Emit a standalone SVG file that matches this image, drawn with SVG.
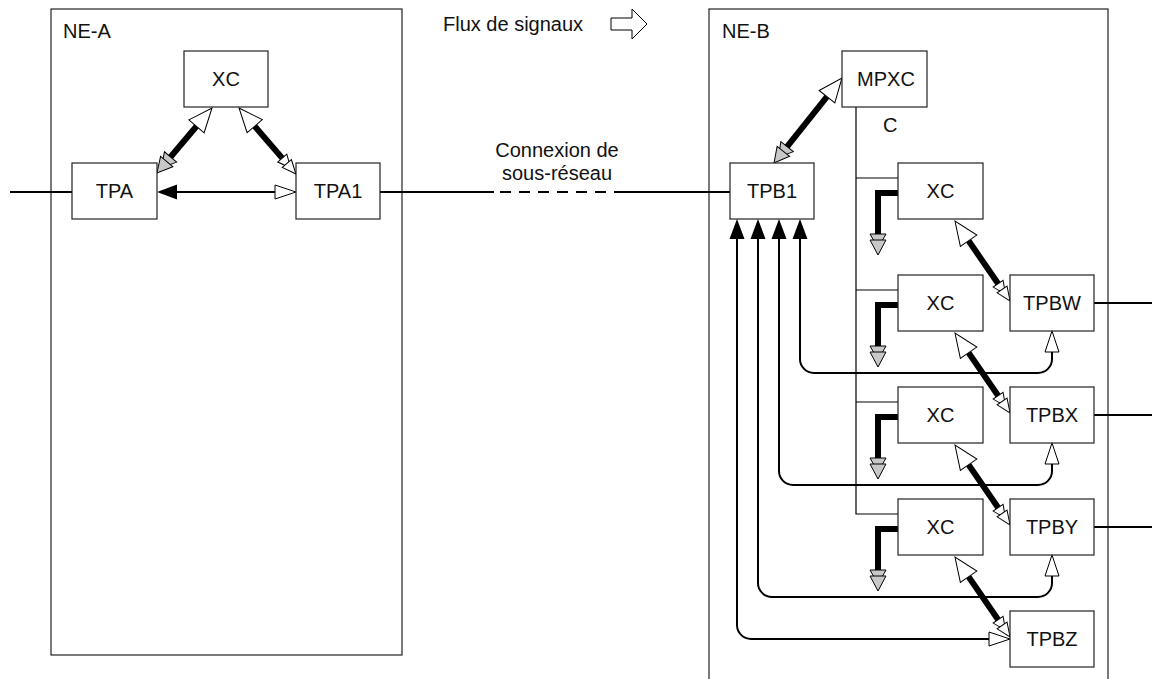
<svg xmlns="http://www.w3.org/2000/svg" width="1152" height="679" viewBox="0 0 1152 679">
<style>
.box{fill:#fff;stroke:#222;stroke-width:1.2}
.frame{fill:none;stroke:#222;stroke-width:1.2}
.t{font-family:"Liberation Sans",Arial,sans-serif;font-size:20px;fill:#111}
.c{text-anchor:middle}
.ln{fill:none;stroke:#000;stroke-width:2}
.thin{fill:none;stroke:#000;stroke-width:1.2}
.thick{fill:none;stroke:#000;stroke-width:6}
</style>
<defs>
<marker id="blk" markerUnits="userSpaceOnUse" markerWidth="24" markerHeight="18" refX="0" refY="7.5" orient="auto-start-reverse" overflow="visible">
<path d="M0,0 L20,7.5 L0,15 Z" fill="#000"/>
</marker>
<marker id="wht" markerUnits="userSpaceOnUse" markerWidth="24" markerHeight="18" refX="0" refY="7" orient="auto-start-reverse" overflow="visible">
<path d="M0,0 L21,7 L0,14 Z" fill="#fff" stroke="#000" stroke-width="1"/>
</marker>
<marker id="wbig" markerUnits="userSpaceOnUse" markerWidth="26" markerHeight="22" refX="0" refY="10" orient="auto-start-reverse" overflow="visible">
<path d="M0,0 L24,10 L0,20 Z" fill="#fff" stroke="#000" stroke-width="1"/>
</marker>
<marker id="gdbl" markerUnits="userSpaceOnUse" markerWidth="24" markerHeight="18" refX="0" refY="8" orient="auto-start-reverse" overflow="visible">
<path d="M-1,0 L13,8 L-1,16 Z" fill="#c8c8c8" stroke="#000" stroke-width="1"/>
<path d="M5,0 L20,8 L5,16 Z" fill="#c8c8c8" stroke="#000" stroke-width="1"/>
</marker>
<marker id="wdbl" markerUnits="userSpaceOnUse" markerWidth="24" markerHeight="16" refX="0" refY="6" orient="auto-start-reverse" overflow="visible">
<path d="M-1,0 L12,6 L-1,12 Z" fill="#fff" stroke="#000" stroke-width="1"/>
<path d="M6,0 L20,6 L6,12 Z" fill="#fff" stroke="#000" stroke-width="1"/>
</marker>
</defs>

<g id="ne-a">
<rect class="frame" x="51" y="9" width="351" height="646"/>
<text class="t" x="63" y="38">NE-A</text>
</g>
<g id="ne-b">
<rect class="frame" x="709" y="9" width="399" height="690"/>
<text class="t" x="722" y="38">NE-B</text>
</g>

<g id="legend">
<text class="t" x="443" y="31">Flux de signaux</text>
<path d="M611,18 H632 V9 L647,24 L632,39 V30 H611 Z" fill="#fff" stroke="#000" stroke-width="1"/>
</g>

<g id="connectors">
<line class="ln" x1="10" y1="192" x2="72" y2="192"/>
<line class="ln" x1="380" y1="192" x2="494" y2="192"/>
<line class="ln" x1="494" y1="192" x2="620" y2="192" stroke-dasharray="0 6 11 8 11 8 11 8 11 8 11 8 11 8 11 8"/>
<line class="ln" x1="620" y1="192" x2="730" y2="192"/>
<line class="ln" x1="1094" y1="303" x2="1152" y2="303"/>
<line class="ln" x1="1094" y1="415" x2="1152" y2="415"/>
<line class="ln" x1="1094" y1="527" x2="1152" y2="527"/>
<line class="thick" x1="196.5" y1="126.3" x2="169.9" y2="157.7" marker-start="url(#wbig)" marker-end="url(#gdbl)"/>
<line class="thick" x1="254.7" y1="126.2" x2="282.9" y2="158.9" marker-start="url(#wbig)" marker-end="url(#wdbl)"/>
<line class="ln" x1="177" y1="192" x2="275" y2="192" marker-start="url(#blk)" marker-end="url(#wht)"/>
<line class="thick" x1="827" y1="96.7" x2="786.5" y2="147.4" marker-start="url(#wbig)" marker-end="url(#gdbl)"/>
<path class="thin" d="M856,107 V514 H898"/>
<line class="thin" x1="856" y1="178" x2="898" y2="178"/>
<line class="thin" x1="856" y1="290" x2="898" y2="290"/>
<line class="thin" x1="856" y1="402" x2="898" y2="402"/>
<path class="thick" d="M898,193 H878 V235" marker-end="url(#gdbl)"/>
<path class="thick" d="M898,305 H878 V347" marker-end="url(#gdbl)"/>
<path class="thick" d="M898,417 H878 V459" marker-end="url(#gdbl)"/>
<path class="thick" d="M898,529 H878 V571" marker-end="url(#gdbl)"/>
<line class="thick" x1="968.6" y1="240.8" x2="998.7" y2="284.5" marker-start="url(#wbig)" marker-end="url(#wdbl)"/>
<line class="thick" x1="968.6" y1="352.8" x2="998.7" y2="396.5" marker-start="url(#wbig)" marker-end="url(#wdbl)"/>
<line class="thick" x1="968.6" y1="464.8" x2="998.7" y2="508.5" marker-start="url(#wbig)" marker-end="url(#wdbl)"/>
<line class="thick" x1="968.6" y1="576.8" x2="998.7" y2="620.5" marker-start="url(#wbig)" marker-end="url(#wdbl)"/>
<path class="ln" d="M800,239 V359 A14,14 0 0 0 814,373 H1038 A14,14 0 0 0 1052,359 V352" marker-start="url(#blk)" marker-end="url(#wht)"/>
<path class="ln" d="M779,239 V471 A14,14 0 0 0 793,485 H1038 A14,14 0 0 0 1052,471 V464" marker-start="url(#blk)" marker-end="url(#wht)"/>
<path class="ln" d="M758,239 V583 A14,14 0 0 0 772,597 H1038 A14,14 0 0 0 1052,583 V576" marker-start="url(#blk)" marker-end="url(#wht)"/>
<path class="ln" d="M737,239 V625 A14,14 0 0 0 751,639 H989" marker-start="url(#blk)" marker-end="url(#wht)"/>
</g>

<g id="xc-a"><rect class="box" x="184" y="51" width="84" height="56"/><text class="t c" x="226" y="86">XC</text></g>
<g id="tpa"><rect class="box" x="72" y="163" width="85" height="56"/><text class="t c" x="114.5" y="198">TPA</text></g>
<g id="tpa1"><rect class="box" x="296" y="163" width="84" height="56"/><text class="t c" x="338" y="198">TPA1</text></g>

<g id="conn-label">
<text class="t c" x="557" y="157">Connexion de</text>
<text class="t c" x="557" y="180">sous-réseau</text>
</g>

<g id="mpxc"><rect class="box" x="842" y="51" width="85" height="56"/><text class="t c" x="886" y="86">MPXC</text></g>
<g id="c-label"><text class="t" x="883" y="132">C</text></g>
<g id="tpb1"><rect class="box" x="730" y="163" width="84" height="56"/><text class="t c" x="772" y="198">TPB1</text></g>
<g id="xc-b1"><rect class="box" x="898" y="163" width="85" height="56"/><text class="t c" x="940.5" y="198">XC</text></g>
<g id="xc-b2"><rect class="box" x="898" y="275" width="85" height="56"/><text class="t c" x="940.5" y="310">XC</text></g>
<g id="xc-b3"><rect class="box" x="898" y="387" width="85" height="56"/><text class="t c" x="940.5" y="422">XC</text></g>
<g id="xc-b4"><rect class="box" x="898" y="499" width="85" height="56"/><text class="t c" x="940.5" y="534">XC</text></g>
<g id="tpbw"><rect class="box" x="1010" y="275" width="84" height="56"/><text class="t c" x="1052" y="310">TPBW</text></g>
<g id="tpbx"><rect class="box" x="1010" y="387" width="84" height="56"/><text class="t c" x="1052" y="422">TPBX</text></g>
<g id="tpby"><rect class="box" x="1010" y="499" width="84" height="56"/><text class="t c" x="1052" y="534">TPBY</text></g>
<g id="tpbz"><rect class="box" x="1010" y="611" width="84" height="56"/><text class="t c" x="1052" y="646">TPBZ</text></g>
</svg>
